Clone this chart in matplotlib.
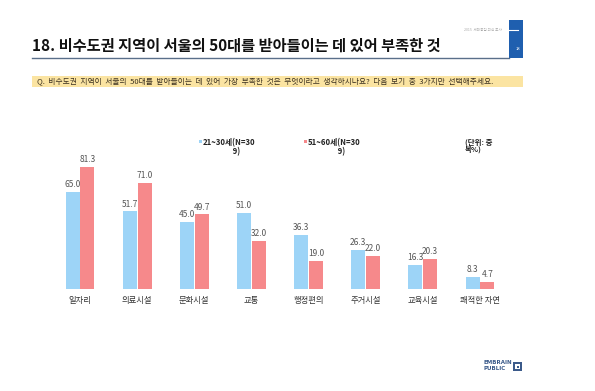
import matplotlib
matplotlib.use("Agg")
import matplotlib.pyplot as plt
from matplotlib.patches import Rectangle

plt.rcParams['font.family'] = ['Noto Sans CJK KR', 'DejaVu Sans']

categories = ['일자리', '의료시설', '문화시설', '교통', '행정편의', '주거시설', '교육시설', '쾌적한 자연']
age_21_30 = [65.0, 51.7, 45.0, 51.0, 36.3, 26.3, 16.3, 8.3]
age_51_60 = [81.3, 71.0, 49.7, 32.0, 19.0, 22.0, 20.3, 4.7]
series_names = ['21~30세', '51~60세']
n_label = '(N=309)'

BLUE = '#9DD4F7'
RED = '#F6898B'
W, H = 595, 391

fig = plt.figure(figsize=(W / 100, H / 100), dpi=100)
fig.patch.set_facecolor('white')
renderer = fig.canvas.get_renderer()

def fx(px):
    return px / W

def fy(py):
    return 1 - py / H

# Title
fig.text(fx(32), fy(46), '18. 비수도권 지역이 서울의 50대를 받아들이는 데 있어 부족한 것',
         fontsize=11, fontweight='bold', color='#111111', va='center', ha='left')
fig.add_artist(plt.Line2D([fx(32), fx(509)], [fy(58), fy(58)], color='#5a6f8a', lw=1.0))
# Blue box at top right
fig.add_artist(Rectangle((fx(509), fy(58)), fx(14), 38 / H, color='#1F5FAF', lw=0))
fig.add_artist(plt.Line2D([fx(504), fx(518)], [fy(30), fy(30)], color='white', lw=0.8))
fig.text(fx(520), fy(49), '18', fontsize=3, color='white', style='italic', ha='right', va='center')
fig.text(fx(502), fy(30), '2015  세대공감 의식 조사', fontsize=2.6, color='#aaaaaa', ha='right', va='center')

# Question bar
fig.add_artist(Rectangle((fx(32), fy(87)), fx(491), 11 / H, color='#FBE4A2', lw=0))
fig.text(fx(37), fy(81.5),
         'Q.  비수도권  지역이  서울의  50대를  받아들이는  데  있어  가장  부족한  것은  무엇이라고  생각하시나요?  다음  보기  중  3가지만  선택해주세요.',
         fontsize=5.55, color='#3a3020', va='center', ha='left')

# Chart axes: category centers at 80 + 57.14*i px, baseline y=289, 1.5 px per unit
step = 57.14
left = 80 - step / 2
ax = fig.add_axes([fx(left), 1 - 289 / H, fx(step * 8), 150 / H])
ax.set_xlim(-0.5, 7.5)
ax.set_ylim(0, 100)
ax.axis('off')

x = list(range(len(categories)))
bw = 0.245
off = 0.13
b1 = ax.bar([i - off for i in x], age_21_30, width=bw, color=BLUE, lw=0)
b2 = ax.bar([i + off for i in x], age_51_60, width=bw, color=RED, lw=0)
for bars, vals in ((b1, age_21_30), (b2, age_51_60)):
    for r, v in zip(bars, vals):
        ax.annotate(f'{v:.1f}', (r.get_x() + r.get_width() / 2, v), xytext=(0, 2),
                    textcoords='offset points', ha='center', va='bottom',
                    fontsize=6, color='#555555')
for i, c in enumerate(categories):
    ax.annotate(c, (i, 0), xytext=(0, -8), textcoords='offset points',
                ha='center', va='center', fontsize=6, color='#333333')

# Legend (wrapped like the reference)
LFS = 5.6

def text_width(s, fs):
    t = fig.text(0, 0, s, fontsize=fs, fontweight='bold')
    w = t.get_window_extent(renderer).width
    t.remove()
    return w

for (lx, color, name) in ((203, BLUE, series_names[0]), (308, RED, series_names[1])):
    fig.add_artist(Rectangle((fx(lx - 4), fy(143)), 3 / W, 3 / H, color=color, lw=0))
    prefix_w = text_width(name, LFS)
    sp_w = (text_width('a' + ' ' * 10 + 'a', LFS) - text_width('aa', LFS)) / 10
    pad = ' ' * int(round(prefix_w / sp_w))
    fig.text(fx(lx), fy(138.5), name + n_label[:-2] + '\n' + pad + n_label[-2:],
             fontsize=LFS, fontweight='bold', color='#222222', va='top', ha='left',
             linespacing=1.0)
fig.text(fx(465), fy(138.5), '(단위: 중\n복%)', fontsize=5.4, fontweight='bold',
         color='#222222', va='top', ha='left', linespacing=1.0)

# Logo
fig.text(fx(483), fy(362), 'EMBRAIN', fontsize=4, fontweight='bold', color='#3b5a8a', va='center', ha='left', family='DejaVu Sans')
fig.text(fx(483), fy(369), 'PUBLIC', fontsize=4, fontweight='bold', color='#3b5a8a', va='center', ha='left', family='DejaVu Sans')
fig.add_artist(Rectangle((fx(513), fy(371)), 9 / W, 9 / H, color='#3b5a8a', lw=0))
fig.add_artist(Rectangle((fx(515), fy(369)), 5 / W, 5 / H, color='white', lw=0))
fig.add_artist(Rectangle((fx(516.5), fy(367.5)), 2 / W, 2 / H, color='#3b5a8a', lw=0))

fig.savefig('out.png', dpi=100, facecolor='white')
